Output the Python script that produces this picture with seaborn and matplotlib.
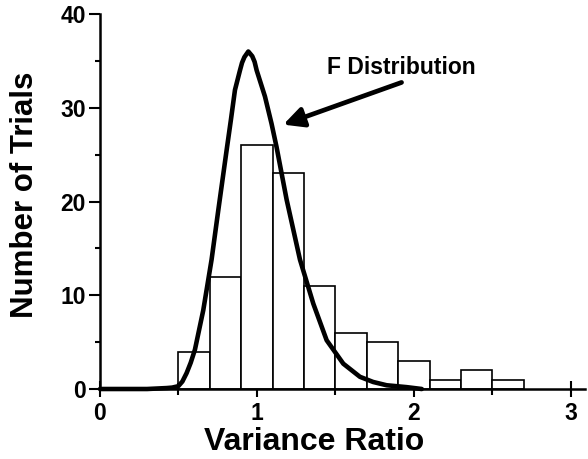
import numpy as np
import matplotlib
matplotlib.use('Agg')
import matplotlib.pyplot as plt
import seaborn as sns

# histogram of variance ratios (bin width 0.2)
bin_edges = [0.5, 0.7, 0.9, 1.1, 1.3, 1.5, 1.7, 1.9, 2.1, 2.3, 2.5, 2.7]
bin_centers = [0.6, 0.8, 1.0, 1.2, 1.4, 1.6, 1.8, 2.0, 2.2, 2.4, 2.6]
trial_counts = [4, 12, 26, 23, 11, 6, 5, 3, 1, 2, 1]

# F distribution curve
curve_x = [0.0, 0.30, 0.425, 0.46, 0.499, 0.525, 0.552, 0.578, 0.605, 0.658, 0.711,
           0.754, 0.807, 0.834, 0.86, 0.892, 0.905, 0.92, 0.945, 0.97, 0.985, 0.998,
           1.051, 1.093, 1.125, 1.189, 1.274, 1.359, 1.444, 1.55, 1.656, 1.74,
           1.826, 1.953, 2.05]
curve_y = [0.0, 0.0, 0.1, 0.15, 0.3, 0.8, 1.7, 2.8, 4.2, 8.4, 13.8,
           19.1, 25.5, 28.7, 31.9, 34.0, 34.8, 35.4, 36.0, 35.5, 34.9, 34.0,
           31.2, 28.3, 25.8, 20.2, 13.8, 9.1, 5.2, 2.7, 1.3, 0.75,
           0.4, 0.2, 0.0]

sns.set_style('ticks')
plt.rcParams['font.family'] = ['Liberation Sans', 'DejaVu Sans']
plt.rcParams['font.weight'] = 'bold'
for key in ['text.color', 'axes.labelcolor', 'xtick.color', 'ytick.color', 'axes.edgecolor']:
    plt.rcParams[key] = 'black'

fig = plt.figure(figsize=(5.88, 4.59), dpi=100)
ax = fig.add_axes([0.170, 0.1525, 0.825, 0.817])

sns.histplot(x=bin_centers, weights=trial_counts, bins=bin_edges, ax=ax,
             color='white', edgecolor='black', linewidth=1.2, alpha=1)
sns.lineplot(x=curve_x, y=curve_y, ax=ax, sort=False, color='black',
             linewidth=3.3, clip_on=False)

ax.annotate('', xy=(1.168, 28.2), xytext=(1.921, 32.7),
            arrowprops=dict(arrowstyle='-|>', lw=3.4, mutation_scale=30,
                            color='black', shrinkA=0, shrinkB=0))
ax.text(1.92, 34.3, 'F Distribution', ha='center', va='center',
        fontsize=16.5, fontweight='bold')

ax.set_xlim(0, 3.09)
ax.set_ylim(0, 40)
ax.set_xticks([0, 1, 2, 3])
ax.set_xticks([0.5, 1.5, 2.5], minor=True)
ax.set_yticks([0, 10, 20, 30, 40])
ax.set_yticks([5, 15, 25, 35], minor=True)

ax.tick_params(axis='x', which='major', direction='inout', length=12, width=1.5,
               labelsize=16.5, pad=3)
ax.tick_params(axis='x', which='minor', direction='inout', length=9, width=1.5)
ax.tick_params(axis='y', which='major', direction='out', length=8, width=1.5,
               labelsize=16.5, pad=2)
ax.tick_params(axis='y', which='minor', direction='out', length=3.5, width=1.5)
for lab in ax.get_xticklabels() + ax.get_yticklabels():
    lab.set_fontweight('bold')

for side in ['top', 'right']:
    ax.spines[side].set_visible(False)
for side in ['left', 'bottom']:
    ax.spines[side].set_linewidth(1.8)

ax.set_xlabel('Variance Ratio', fontsize=23, fontweight='bold')
ax.set_ylabel('Number of Trials', fontsize=22.5, fontweight='bold')
ax.xaxis.set_label_coords(0.441, -0.141)
ax.yaxis.set_label_coords(-0.155, 0.519)
ax.xaxis.label.set_va('center')
ax.yaxis.label.set_va('center')

plt.savefig('out.png', dpi=100)
